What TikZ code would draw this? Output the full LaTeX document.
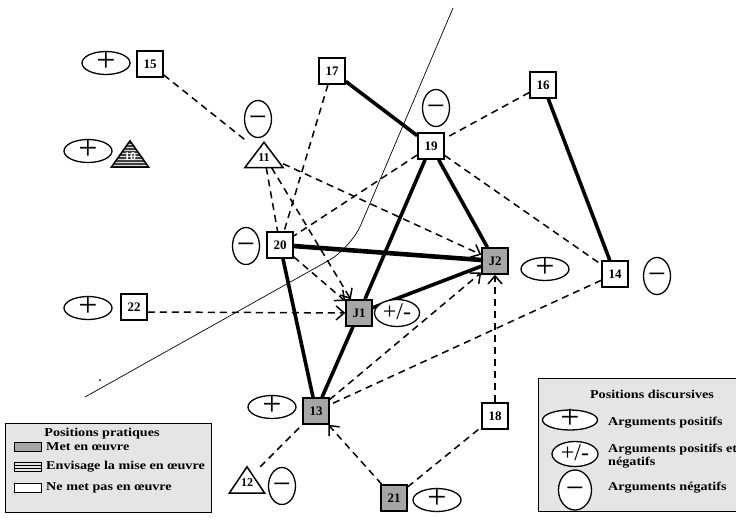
\documentclass[tikz,border=0pt]{standalone}
\usepackage{fontspec}
\setmainfont{Liberation Serif}
\newfontfamily\legfont{Liberation Serif}[FakeStretch=1.18]
\usetikzlibrary{arrows.meta,shapes.geometric,patterns,backgrounds}
\begin{document}
\begin{tikzpicture}[x=1pt,y=-1pt,
  box/.style={draw,line width=1.5pt,fill=white,minimum width=26pt,minimum height=26pt,inner sep=0pt,font=\fontsize{13}{13}\selectfont\bfseries},
  shaded/.style={box,fill=black!35},
  trin/.style={minimum width=38pt,minimum height=25pt,inner sep=0pt},
  trishape/.style={line width=1.5pt,fill=white,line join=miter},
  tritext/.style={inner sep=0pt,font=\fontsize{12}{12}\selectfont\bfseries,yshift=-3pt},
  ell/.style={ellipse,draw,line width=1.3pt,fill=white,inner sep=0pt},
  plab/.style={inner sep=0pt,font=\fontsize{34}{34}\selectfont,text height=17pt,text depth=0pt},
  mlab/.style={inner sep=0pt,font=\fontsize{32}{32}\selectfont,text height=16pt,text depth=0pt},
  pmlab/.style={inner sep=0pt,font=\fontsize{24}{24}\selectfont,text height=12pt,text depth=0pt},
  posell/.style={ell,minimum width=48pt,minimum height=23pt,label={[plab]center:+}},
  negell/.style={ell,minimum width=27pt,minimum height=37pt,label={[mlab]center:−}},
  pmell/.style={ell,minimum width=45pt,minimum height=27pt,label={[pmlab]center:+/-}},
  dl/.style={dash pattern=on 7pt off 5pt,line width=1.5pt},
  arr/.style={-{Straight Barb[length=8pt,width=14pt]}},
  sl/.style={line width=3.6pt},
  legbox/.style={draw,line width=1.4pt,fill=black!10},
  legtxt/.style={inner sep=0pt,anchor=west,font=\legfont\bfseries\fontsize{12}{12.5}\selectfont,align=left},
  legtitle/.style={inner sep=0pt,font=\legfont\bfseries\fontsize{12}{12}\selectfont},
  swatch/.style={draw,line width=1.2pt,minimum width=27pt,minimum height=9pt,inner sep=0pt}
]
\useasboundingbox (0,0) rectangle (736,517);

% ---- nodes ----
\node[box] (n15) at (150,64) {15};
\node[posell] (e15) at (106,63) {};

\node[trin,minimum width=37pt,minimum height=26pt] (n10) at (130,154) {};
\draw[trishape,preaction={fill=black!75},pattern=horizontal lines,pattern color=white!85!black] (n10.south west) -- (n10.south east) -- (n10.north) -- cycle;
\node[tritext,text=white] at (n10) {10};
\node[posell] (e10) at (88,151) {};

\node[box] (n17) at (332,71) {17};
\node[box] (n19) at (431,146) {19};
\node[negell] (e19) at (436,108) {};
\node[box] (n16) at (543,85) {16};

\node[trin] (n11) at (264,155) {};
\draw[trishape] (n11.south west) -- (n11.south east) -- (n11.north) -- cycle;
\node[tritext] at (n11) {11};
\node[negell] (e11) at (258,119) {};

\node[box] (n20) at (280,245) {20};
\node[negell] (e20) at (246,246) {};

\node[shaded] (nJ2) at (495,261) {J2};
\node[posell] (eJ2) at (545,269) {};

\node[shaded] (nJ1) at (359,313) {J1};
\node[pmell] (eJ1) at (397,313) {};

\node[box] (n22) at (134,307) {22};
\node[posell] (e22) at (88,308) {};

\node[box] (n14) at (615,274) {14};
\node[negell] (e14) at (657,276) {};

\node[shaded] (n13) at (316,411) {13};
\node[posell] (e13) at (272,407) {};

\node[box] (n18) at (495,416) {18};

\node[trin,minimum width=35pt,minimum height=26pt] (n12) at (247,480) {};
\draw[trishape] (n12.south west) -- (n12.south east) -- (n12.north) -- cycle;
\node[tritext] at (n12) {12};
\node[negell] (e12) at (282,486) {};

\node[shaded] (n21) at (394,498) {21};
\node[posell] (e21) at (437,500) {};

% ---- connectors ----
\begin{scope}[on background layer]
  \coordinate (t1) at (453,8);
  \coordinate (t2) at (351,248);
  \coordinate (t3) at (85,397);
  \draw[line width=0.7pt,rounded corners=25pt] (t1) -- (t2) -- (t3);
  \fill (100,380) circle (1pt);

  \draw[dl] (n15) -- (n11);
  \draw[dl,arr] (n11) -- (nJ2);
  \draw[dl] (n11) -- (n20);
  \draw[dl,arr] (n11) -- (nJ1);
  \draw[dl] (n17) -- (n20);
  \draw[dl] (n16) -- (n19);
  \draw[dl] (n19) -- (n20);
  \draw[dl] (n19) -- (n14);
  \draw[dl,arr] (n20) -- (nJ1);
  \draw[dl,arr] (n22.east |- 0,312) -- (nJ1);
  \draw[dl,arr] (n13) -- (nJ2);
  \draw[dl,arr] (n18) -- (nJ2);
  \draw[dl] (n14) -- (n13);
  \draw[dl,arr] (n21) -- (n13);
  \draw[dl] (n21) -- (n18);
  \draw[dl] (n12) -- (n13);

  \draw[sl] (n17) -- (n19);
  \draw[sl] (n19) -- (nJ1);
  \draw[sl] (n19) -- (nJ2);
  \draw[sl] (n16) -- (n14);
  \draw[sl,line width=4.6pt] (n20) -- (nJ2);
  \draw[sl] (nJ1) -- (nJ2);
  \draw[sl] (n20) -- (n13);
  \draw[sl] (nJ1) -- (n13);
\end{scope}

% ---- legend: positions pratiques ----
\node[legbox,minimum width=206pt,minimum height=89pt,anchor=north west] (lp) at (5,423) {};
\node[legtitle] (lpt) at (102,434) {Positions pratiques};
\node[swatch,fill=black!35] (s1) at (28,447) {};
\node[legtxt] (s1t) at (46,447) {Met en œuvre};
\node[swatch,fill=white,pattern=horizontal lines] (s2) at (28,467) {};
\node[legtxt] (s2t) at (46,467) {Envisage la mise en œuvre};
\node[swatch,fill=white] (s3) at (28,488) {};
\node[legtxt] (s3t) at (46,488) {Ne met pas en œuvre};

% ---- legend: positions discursives ----
\node[legbox,minimum width=220pt,minimum height=133pt,anchor=north west] (ld) at (538,378) {};
\node[legtitle] (ldt) at (652,394) {Positions discursives};
\node[posell,minimum width=55pt,minimum height=20pt] (l1) at (570,420) {};
\node[legtxt] (l1t) at (608,423) {Arguments positifs};
\node[pmell,minimum width=46pt,minimum height=25pt] (l2) at (575,454) {};
\node[legtxt] (l2t) at (608,456) {Arguments positifs et\\négatifs};
\node[negell,minimum width=33pt,minimum height=40pt] (l3) at (575,490) {};
\node[legtxt] (l3t) at (608,488) {Arguments négatifs};
\end{tikzpicture}
\end{document}
